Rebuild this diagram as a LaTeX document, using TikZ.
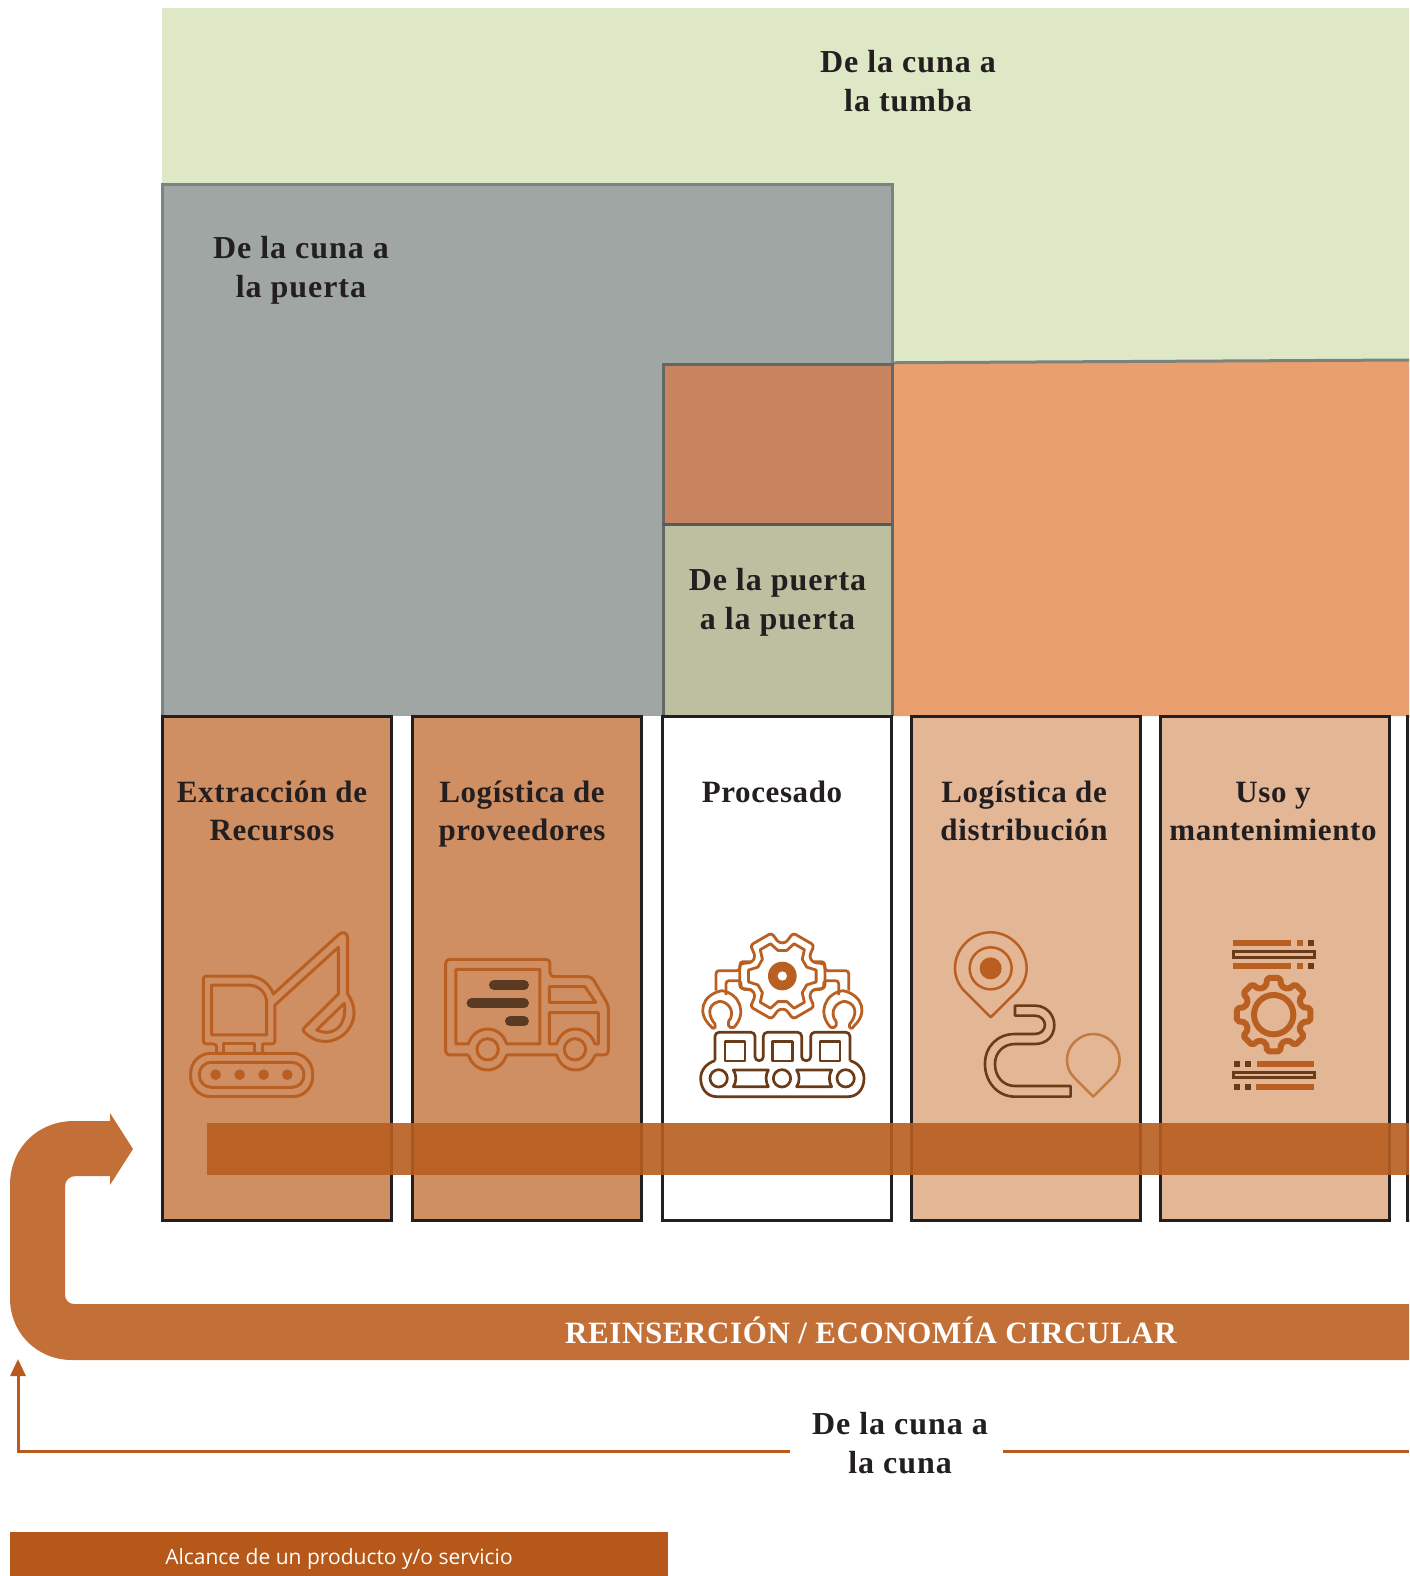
\documentclass[tikz,border=0pt]{standalone}
\usepackage{fontspec}
\setmainfont{Liberation Serif}
\newfontfamily\legendfont{Open Sans}
\newfontfamily\titlefont[LetterSpace=3]{Liberation Serif Bold}
\newfontfamily\labelfont[LetterSpace=2]{Liberation Serif Bold}
\usetikzlibrary{arrows.meta}
\definecolor{cgreen}{HTML}{DFE8C6}
\definecolor{cgray}{HTML}{A0A6A3}
\definecolor{corange}{HTML}{EAA06E}
\definecolor{cmix}{HTML}{C8835F}
\definecolor{colive}{HTML}{BDC0A0}
\definecolor{cedge}{HTML}{7A837E}
\definecolor{cboxa}{HTML}{CF8F62}
\definecolor{cboxb}{HTML}{E3B695}
\definecolor{cink}{HTML}{231F20}
\definecolor{cband}{HTML}{B85E20}
\definecolor{carrow}{HTML}{C27037}
\definecolor{cline}{HTML}{B85A1E}
\definecolor{clegend}{HTML}{B55819}
\definecolor{cicon}{HTML}{BA5F22}
\definecolor{cbrown}{HTML}{6B3A17}
\definecolor{cbar}{HTML}{5A3A22}
\definecolor{cpin}{HTML}{C47B42}
\tikzset{
  procbox/.style={draw=cink,line width=3pt,rectangle,inner sep=0pt,outer sep=0pt},
  title/.style={font=\titlefont\fontsize{32}{39}\selectfont,text=cink,align=center,inner sep=0pt},
  boxtitle/.style={font=\labelfont\fontsize{31}{38}\selectfont,text=cink,align=center,inner sep=0pt},
  zoomA/.style={x=0.3333pt,y=-0.3333pt,xshift=160pt,yshift=-900pt},
  zoomB/.style={x=0.3333pt,y=-0.3333pt,xshift=660pt,yshift=-900pt},
  zoomC/.style={x=0.3333pt,y=-0.3333pt,xshift=1140pt,yshift=-900pt},
  ico/.style={draw=cicon,line width=3pt,line join=round},
  icobrown/.style={draw=cbrown,line width=2.7pt,line join=round},
  icothin/.style={draw=cicon,line width=2.8pt,line join=round}
}
\newcommand{\clawshape}{
  (152,378) .. controls (110,340) and (125,285) .. (185,272)
  .. controls (240,280) and (262,340) .. (222,382)
  .. controls (205,388) and (198,370) .. (212,355)
  .. controls (225,320) and (190,300) .. (175,305)
  .. controls (140,315) and (145,350) .. (165,372)
  .. controls (170,388) and (155,388) .. (152,378) -- cycle
}
\newcommand{\armshape}{
  (168,272) -- (168,212) -- (240,212) -- (240,185) -- (272,185)
  (198,285) -- (198,242) -- (243,242) -- (243,267) -- (275,270)
}
\begin{document}
\begin{tikzpicture}[x=1pt,y=-1pt]
\useasboundingbox (0,0) rectangle (1409,1576);
\clip (0,0) rectangle (1409,1576);
\fill[white] (0,0) rectangle (1409,1576);

% scope regions
\fill[cgreen] (162,8) rectangle (1409,362);
\fill[corange] (663,364) -- (1409,360) -- (1409,716) -- (663,716) -- cycle;
\draw[cedge,line width=3pt] (663,364) -- (1409,360);
\fill[cgray] (162,184) rectangle (892,716);
\fill[cmix] (663,364) rectangle (892,524);
\fill[colive] (663,524) rectangle (892,716);
\draw[cedge,line width=3pt] (162,716) -- (162,184.5) -- (892,184.5) -- (892,364);
\draw[cedge!80!black,line width=3pt] (663,716) -- (663,364) -- (892,364) -- (892,716);
\draw[cedge!70!black,line width=3pt] (663,524) -- (892,524);

% process boxes
\node[procbox,fill=cboxa,minimum width=229pt,minimum height=504pt] (b1) at (277.2,968) {};
\node[procbox,fill=cboxa,minimum width=229pt,minimum height=504pt] (b2) at (527.3,968) {};
\node[procbox,fill=white,minimum width=229pt,minimum height=504pt] (b3) at (777.3,968) {};
\node[procbox,fill=cboxb,minimum width=229pt,minimum height=504pt] (b4) at (1025.5,968) {};
\node[procbox,fill=cboxb,minimum width=229pt,minimum height=504pt] (b5) at (1274.5,968) {};
\node[procbox,fill=white,minimum width=60pt,minimum height=504pt] (b6) at (1437.7,968) {};

% excavator
\begin{scope}[zoomA]
\draw[ico,rounded corners=3pt] (170,460) -- (170,432) -- (130,432) -- (130,228) -- (262,228);
\draw[ico] (262,228) .. controls (300,228) and (328,250) .. (340,282) -- (535,105) .. controls (548,92) and (563,98) .. (563,115) -- (563,282)
  .. controls (590,320) and (590,365) .. (555,400) .. controls (520,432) and (470,435) .. (432,395) .. controls (428,390) and (428,388) .. (432,384) -- (535,282) -- (535,142) -- (345,315) -- (345,420) .. controls (345,430) and (340,432) .. (330,432) -- (308,432) -- (308,460);
\draw[ico] (155,255) -- (155,405) -- (320,405) -- (320,310) .. controls (320,275) and (295,255) .. (262,255) -- cycle;
\draw[ico] (553,310) -- (470,390) .. controls (500,405) and (530,395) .. (545,370) .. controls (555,350) and (556,330) .. (553,310) -- cycle;
\draw[ico] (192,432) rectangle (283,460);
\draw[ico,rounded corners=20pt] (92,460) rectangle (458,590);
\draw[ico,rounded corners=12pt] (118,487) rectangle (432,562);
\foreach \xx in {167,239,311,382}{\fill[cicon] (\xx,524) circle[radius=16];}
% truck
\draw[ico,rounded corners=4pt] (925,465) -- (857,465) -- (857,178) -- (1170,178) -- (1170,230) -- (1295,230) -- (1345,315) -- (1345,465) -- (1305,465);
\draw[ico] (925,465) .. controls (945,525) and (1020,525) .. (1040,465) -- (1190,465) .. controls (1208,525) and (1285,525) .. (1305,465);
\draw[ico] (888,432) -- (888,208) -- (1140,208) -- (1140,432) -- (1040,432) .. controls (1022,372) and (945,372) .. (925,432) -- cycle;
\draw[ico] (1168,260) -- (1275,260) -- (1307,307) -- (1168,307) -- cycle;
\draw[ico] (1168,432) -- (1168,338) -- (1315,338) -- (1315,432) -- (1305,432) .. controls (1285,372) and (1208,372) .. (1190,432) -- cycle;
\draw[ico] (983,448) circle[radius=32];
\draw[ico] (1245,448) circle[radius=32];
\draw[cbar,line width=10pt,line cap=round] (1002,255) -- (1092,255);
\draw[cbar,line width=10pt,line cap=round] (935,310) -- (1092,310);
\draw[cbar,line width=10pt,line cap=round] (1050,364) -- (1092,364);
\end{scope}

% factory
\begin{scope}[zoomB]
\begin{scope}[shift={(367,228)}]
\draw[icothin,rounded corners=3pt] (-24:100) -- (-16:133) \foreach \a in {0,60,120,180,240}{ -- (\a+16:133) -- (\a+24:100) -- (\a+36:100) -- (\a+44:133)} -- (316:133) -- (324:100) -- cycle;
\draw[icothin] (-20:78) -- (-10:103) \foreach \a in {0,60,120,180,240}{ -- (\a+10:103) -- (\a+20:78) -- (\a+40:78) -- (\a+50:103)} -- (310:103) -- (320:78) -- cycle;
\fill[cicon] (0,0) circle[radius=43];
\fill[white] (0,0) circle[radius=14];
\end{scope}
\draw[icothin,rounded corners=3pt] \armshape;
\draw[icothin] \clawshape;
\begin{scope}[xshift=244.64pt,xscale=-1]
\draw[icothin,rounded corners=3pt] \armshape;
\draw[icothin] \clawshape;
\end{scope}
\draw[icobrown,rounded corners=4pt] (165,482) -- (165,397) -- (285,397) -- (285,482) -- (310,482) -- (310,397) -- (425,397) -- (425,482) -- (452,482) -- (452,397) -- (570,397) -- (570,482);
\draw[icobrown] (165,482) .. controls (140,490) and (122,510) .. (122,535) .. controls (122,565) and (140,590) .. (170,590) -- (565,590) .. controls (590,590) and (612,570) .. (612,535) .. controls (612,515) and (600,490) .. (570,482);
\draw[icobrown] (195,425) rectangle (255,483);
\draw[icobrown] (338,425) rectangle (398,483);
\draw[icobrown] (480,425) rectangle (540,483);
\foreach \xx in {176,366,557}{\draw[icobrown] (\xx,535) circle[radius=26];}
\draw[icobrown] (220,510) -- (325,510) .. controls (316,525) and (316,545) .. (325,560) -- (220,560) .. controls (230,545) and (230,525) .. (220,510) -- cycle;
\draw[icobrown] (410,510) -- (515,510) .. controls (506,525) and (506,545) .. (515,560) -- (410,560) .. controls (420,545) and (420,525) .. (410,510) -- cycle;

% pins and road
\draw[ico,line width=2.5pt] (992,352) -- (915,275) .. controls (895,255) and (885,230) .. (885,205) .. controls (885,145) and (935,97) .. (992,97) .. controls (1050,97) and (1100,145) .. (1100,205) .. controls (1100,230) and (1090,255) .. (1070,275) -- cycle;
\draw[ico,line width=2.5pt] (992,205) circle[radius=63];
\fill[cicon] (992,205) circle[radius=33];
\draw[draw=cpin,line width=2.5pt,line join=round] (1300,590) -- (1243,533) .. controls (1228,518) and (1221,500) .. (1221,480) .. controls (1221,437) and (1258,402) .. (1300,402) .. controls (1342,402) and (1379,437) .. (1379,480) .. controls (1379,500) and (1372,518) .. (1357,533) -- cycle;
\draw[icobrown,line width=2.6pt] (1065,317) -- (1125,317) .. controls (1160,317) and (1183,345) .. (1183,375) .. controls (1183,408) and (1160,432) .. (1125,432) -- (1065,432) .. controls (1030,432) and (1005,458) .. (1005,492) .. controls (1005,530) and (1030,558) .. (1065,558) -- (1232,558) -- (1232,590) -- (1065,590) .. controls (1012,590) and (975,545) .. (975,492) .. controls (975,440) and (1012,402) .. (1065,402) -- (1125,402) .. controls (1142,402) and (1155,390) .. (1155,375) .. controls (1155,360) and (1142,347) .. (1125,347) -- (1065,347) -- cycle;
\end{scope}

% gear and lines
\begin{scope}[zoomC]
\fill[cicon] (279,120) rectangle (453,138);
\fill[cicon] (471,120) rectangle (489,138);
\fill[cbrown] (504,120) rectangle (522,138);
\fill[cicon] (279,189) rectangle (453,207);
\fill[cicon] (471,189) rectangle (489,207);
\fill[cbrown] (504,189) rectangle (522,207);
\draw[cbrown,line width=3pt] (281,155) rectangle (522,172);
\fill[cbrown] (282,482) rectangle (300,500);
\fill[cbrown] (315,482) rectangle (333,500);
\fill[cicon] (351,482) rectangle (522,500);
\draw[cbrown,line width=3pt] (281,517) rectangle (522,534);
\fill[cbrown] (282,552) rectangle (300,570);
\fill[cbrown] (315,552) rectangle (333,570);
\fill[cicon] (348,552) rectangle (522,570);
\begin{scope}[shift={(401,344)}]
\draw[cicon,line width=6pt,line join=round,rounded corners=2pt] (-15:88) -- (-10:112) \foreach \a in {0,45,90,135,180,225,270}{ -- (\a+10:112) -- (\a+15:88) -- (\a+30:88) -- (\a+35:112)} -- (325:112) -- (330:88) -- cycle;
\draw[cicon,line width=6pt] (0,0) circle[radius=59];
\end{scope}
\end{scope}

% horizontal band
\fill[cband,opacity=0.9] (207,1123) rectangle (1409,1175);

% return arrow
\fill[carrow] (1409,1304) -- (74,1304) .. controls (69,1304) and (65,1300) .. (65,1295) -- (65,1186) .. controls (65,1180) and (70,1176) .. (76,1176) -- (110,1176) -- (110,1185) -- (133,1149) -- (110,1113) -- (110,1121) -- (74,1121) .. controls (38,1121) and (10,1148) .. (10,1185) -- (10,1298) .. controls (10,1334) and (38,1360) .. (72,1360) -- (1409,1360) -- cycle;
\node[font=\labelfont\fontsize{31}{38}\selectfont,text=white,inner sep=0pt] (reins) at (871,1330) {REINSERCIÓN / ECONOMÍA CIRCULAR};

% cradle to cradle bracket
\node[title] (cc) at (900,1443) {De la cuna a\\la cuna};
\coordinate (ccL) at (790,1451);
\coordinate (ccR) at (1003,1451);
\coordinate (ccE) at (1409,1451);
\coordinate (ccC) at (18,1451);
\coordinate (ccT) at (18,1359);
\draw[cline,line width=3pt,-{Triangle[length=17pt,width=15pt]}] (ccL) -- (ccC) -- (ccT);
\draw[cline,line width=3pt] (ccR) -- (ccE);

% titles
\node[title] (t1) at (908,81.5) {De la cuna a\\la tumba};
\node[title] (t2) at (301,270) {De la cuna a\\la puerta};
\node[title] (t3) at (777.5,602) {De la puerta\\a la puerta};
\node[boxtitle] (l1) at (272,811) {Extracción de\\Recursos};
\node[boxtitle] (l2) at (522,814) {Logística de\\proveedores};
\node[boxtitle] (l3) at (772,792) {Procesado};
\node[boxtitle] (l4) at (1024,811) {Logística de\\distribución};
\node[boxtitle] (l5) at (1273,811) {Uso y\\mantenimiento};

% legend
\node[fill=clegend,minimum width=658pt,minimum height=44pt,inner sep=0pt,outer sep=0pt] (leg) at (339,1554) {};
\node[font=\legendfont\fontsize{21}{25}\selectfont,text=white,inner sep=0pt] (legt) at (339,1559) {Alcance de un producto y/o servicio};
\end{tikzpicture}
\end{document}
